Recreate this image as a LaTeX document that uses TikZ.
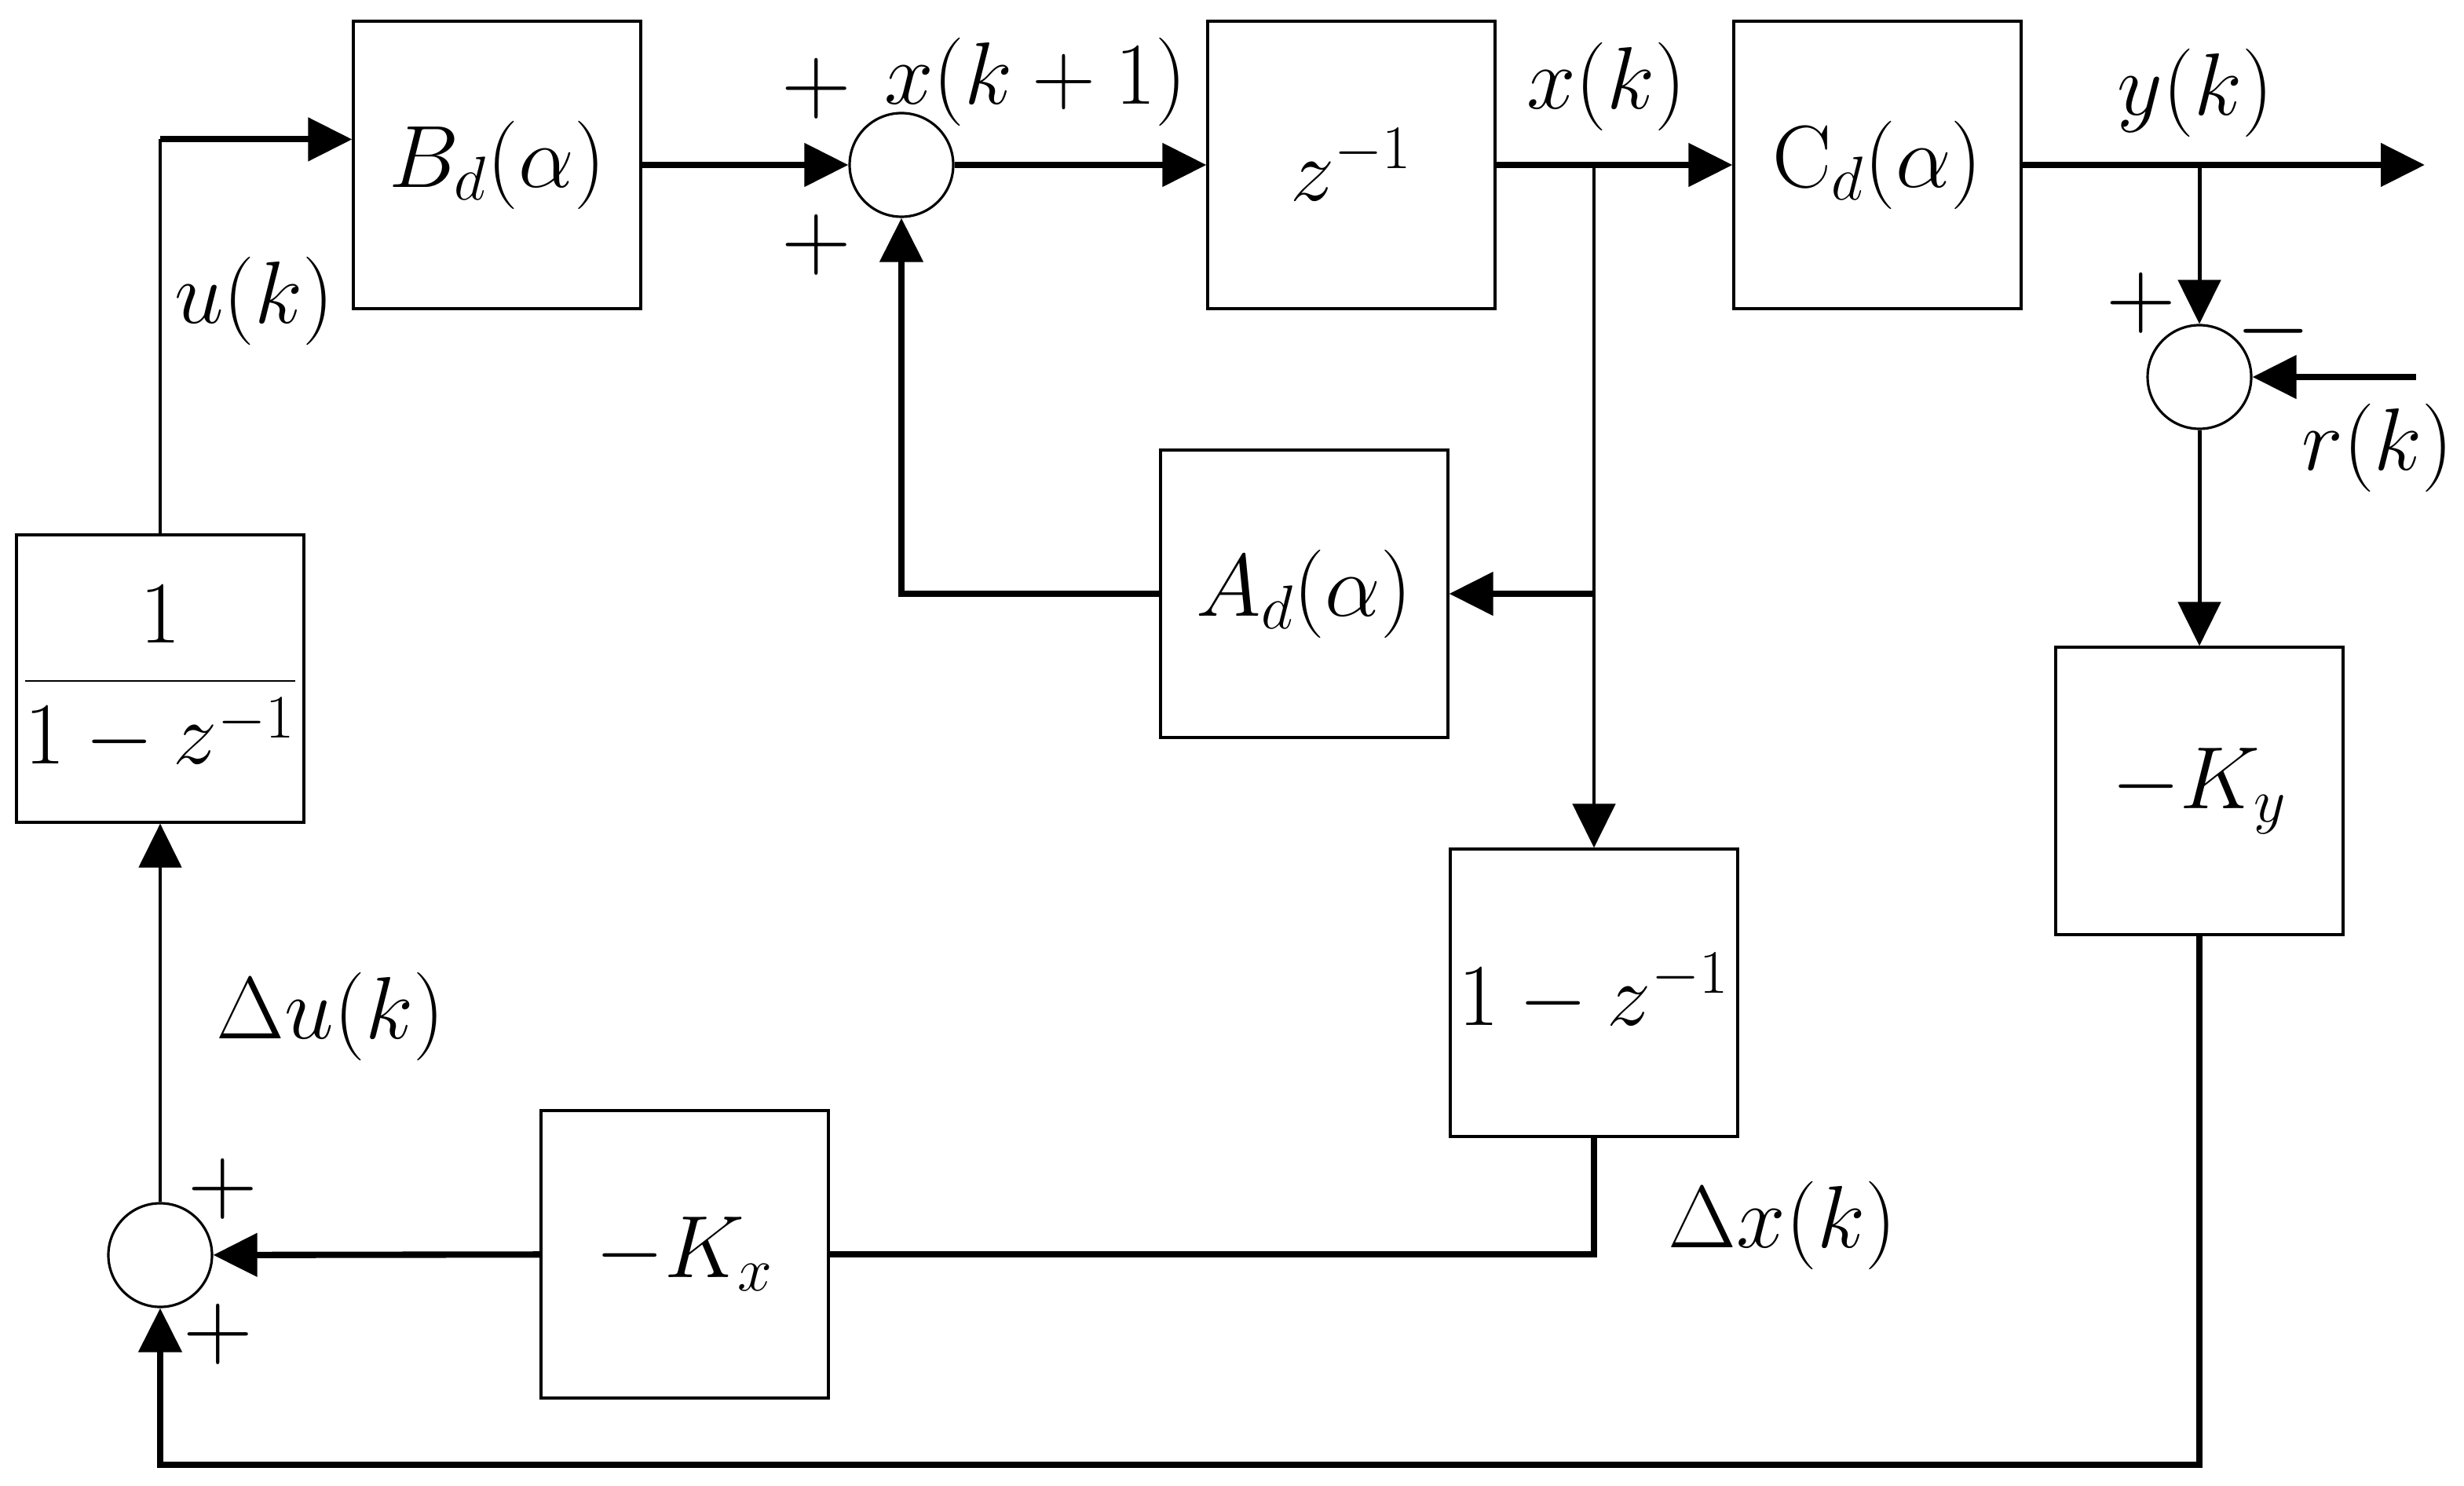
\documentclass[tikz,border=0pt]{standalone}
\usepackage{fix-cm}
\usetikzlibrary{arrows.meta}
\tikzstyle{block}=[draw,line width=0.9pt,minimum width=3.66cm,minimum height=3.66cm,inner sep=0pt]
\tikzstyle{sum}=[circle,draw,line width=0.9pt,minimum size=1.32cm,inner sep=0pt]
\tikzstyle{wire}=[draw,line width=2.3pt]
\tikzstyle{thin wire}=[draw,line width=1.4pt]
\tikzstyle{signal}=[wire,-{Triangle[length=5.6mm,width=5.4mm]}]
\tikzstyle{branch}=[thin wire,-{Triangle[length=5.6mm,width=5.4mm]}]
\tikzstyle{sign}=[font=\fontsize{35}{40}\selectfont]

\begin{document}
\begin{tikzpicture}[font=\fontsize{32}{38}\selectfont]
    \useasboundingbox (0,0) rectangle (31.38,-18.92);
    % First the blocks
    \foreach \pos/\name/\tfun in {{(6.33,-2.10)/Bd/B_d(\alpha)},{(17.21,-2.10)/zinv/z^{-1}},
        {(23.91,-2.10)/Cd/\mathrm{C}_d(\alpha)},{(16.61,-7.56)/Ad/A_d(\alpha)},
        {(2.04,-8.64)/int/\displaystyle\frac{1}{1-z^{-1}}},{(20.30,-12.64)/diff/1-z^{-1}},
        {(8.72,-15.97)/Kx/-K_x},{(28.01,-10.07)/Ky/-K_y}}
    \node[block] (\name) at \pos {$\tfun$};
    % Then the summing junctions
    \foreach \pos/\name in {{(11.48,-2.10)/sum1},{(28.01,-4.80)/sum2},{(2.04,-15.98)/sum3}}
    \node[sum] (\name) at \pos {};
    % Branch points and free ends
    \coordinate (xk) at (20.30,-2.10);
    \coordinate (yk) at (28.01,-2.10);
    \coordinate (yout) at (30.88,-2.10);
    \coordinate (rin) at (30.77,-4.80);
    \coordinate (bl) at (2.04,-18.65);
    \coordinate (uk) at (int.north |- Bd.170);
    % Connect blocks with signals
    \path[thin wire] (int.north) -- (uk);
    \path[signal] (uk) -- (Bd.170);
    \foreach \source/\dest in {Bd/sum1,sum1/zinv,zinv/Cd,Cd/yout,rin/sum2,Kx/sum3}
    \path[signal] (\source) -- (\dest);
    \path[signal] (xk |- Ad.east) -- (Ad.east);
    \path[signal] (Ad.west) -| (sum1.south);
    \path[wire] (diff.south) |- (Kx.east);
    \path[signal] (Ky.south) |- (bl) -- (sum3.south);
    \foreach \source/\dest in {xk/diff.north,yk/sum2.north,sum2.south/Ky.north,sum3.north/int.south}
    \path[branch] (\source) -- (\dest);
    % Signs at the junctions
    \foreach \pos/\name/\sgn in {{(10.40,-1.13)/s1a/+},{(10.40,-3.12)/s1b/+},{(27.27,-3.86)/s2a/+},
        {(28.95,-4.22)/s2b/-},{(2.84,-15.14)/s3a/+},{(2.78,-16.99)/s3b/+}}
    \node[sign] (\name) at \pos {$\sgn$};
    % Signal names
    \foreach \pos/\name/\sig in {{(13.19,-1.04)/lxk1/x(k+1)},{(20.46,-1.10)/lxk/x(k)},
        {(27.96,-1.18)/lyk/y(k)},{(30.28,-5.70)/lrk/r(k)},{(3.24,-3.83)/luk/u(k)},
        {(4.21,-12.94)/lduk/\Delta u(k)},{(22.70,-15.60)/ldxk/\Delta x(k)}}
    \node (\name) at \pos {$\sig$};
\end{tikzpicture}
\end{document}
